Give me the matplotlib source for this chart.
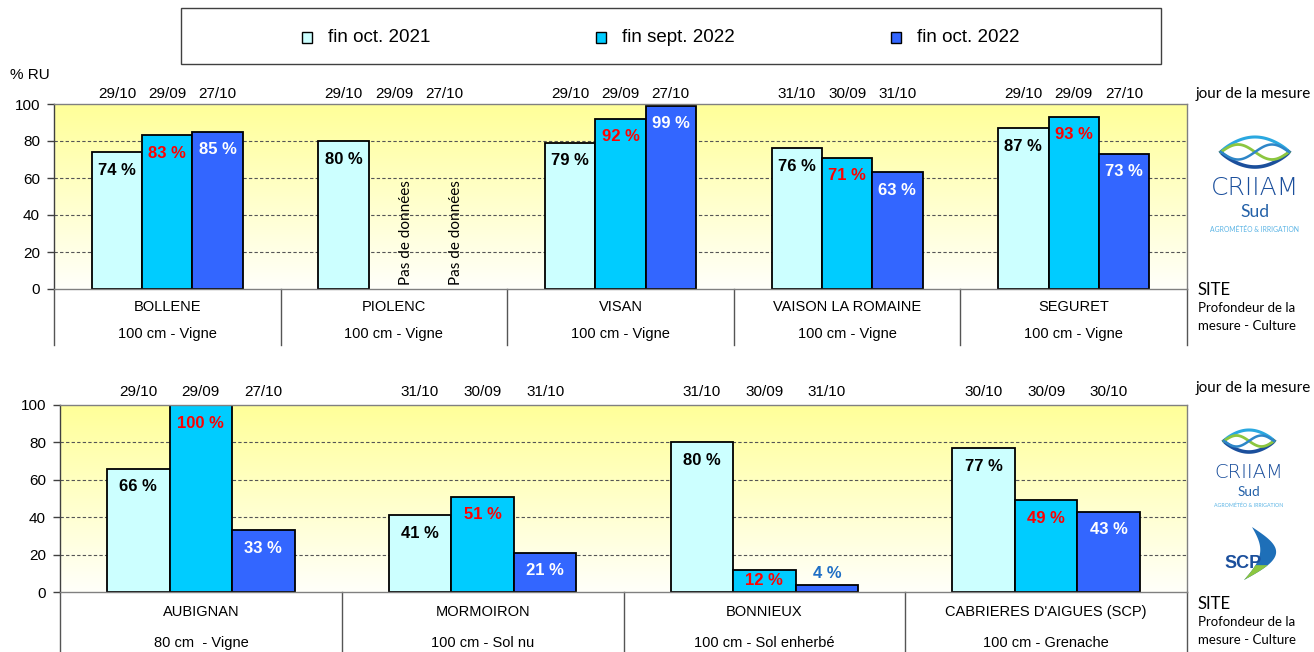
import numpy as np
import matplotlib
matplotlib.use("Agg")
import matplotlib.pyplot as plt
from matplotlib.colors import LinearSegmentedColormap
from matplotlib.patches import Rectangle
from matplotlib.transforms import blended_transform_factory

# ---------------- data ----------------
series_names = ["fin oct. 2021", "fin sept. 2022", "fin oct. 2022"]

top_sites = ["BOLLENE", "PIOLENC", "VISAN", "VAISON LA ROMAINE", "SEGURET"]
top_cultures = ["100 cm - Vigne", "100 cm - Vigne", "100 cm - Vigne",
                "100 cm - Vigne", "100 cm - Vigne"]
top_oct2021 = [74, 80, 79, 76, 87]
top_sept2022 = [83, None, 92, 71, 93]
top_oct2022 = [85, None, 99, 63, 73]
top_dates_oct2021 = ["29/10", "29/10", "29/10", "31/10", "29/10"]
top_dates_sept2022 = ["29/09", "29/09", "29/09", "30/09", "29/09"]
top_dates_oct2022 = ["27/10", "27/10", "27/10", "31/10", "27/10"]

bot_sites = ["AUBIGNAN", "MORMOIRON", "BONNIEUX", "CABRIERES D'AIGUES (SCP)"]
bot_cultures = ["80 cm  - Vigne", "100 cm - Sol nu", "100 cm - Sol enherbé",
                "100 cm - Grenache"]
bot_oct2021 = [66, 41, 80, 77]
bot_sept2022 = [100, 51, 12, 49]
bot_oct2022 = [33, 21, 4, 43]
bot_dates_oct2021 = ["29/10", "31/10", "31/10", "30/10"]
bot_dates_sept2022 = ["29/09", "30/09", "30/09", "30/09"]
bot_dates_oct2022 = ["27/10", "31/10", "31/10", "30/10"]

y_ticks = [0, 20, 40, 60, 80, 100]
no_data_text = "Pas de données"

# ---------------- style ----------------
bar_colors = ["#CCFFFF", "#00CCFF", "#3366FF"]
label_colors = ["#000000", "#FF0000", "#FFFFFF"]
small_label_color = "#1F6FC5"
ARIAL = "Liberation Sans"
CALIBRI = "Lato"

W, H = 1314, 652
fig = plt.figure(figsize=(W / 100, H / 100), dpi=100)
fig.patch.set_facecolor("white")


def PT(px):
    return px * 0.72


def px_axes(l, t, r, b):
    return fig.add_axes([l / W, 1 - b / H, (r - l) / W, (b - t) / H])


bg_cmap = LinearSegmentedColormap.from_list("bg", ["#FFFFFA", "#FFFF99"])


def draw_panel(ax, axh_px, sites, cultures, series, dates,
               date_dy, site_dy, cult_dy, depth_px):
    n = len(sites)
    bw = 0.222
    offsets = [-bw, 0.0, bw]
    ax.set_xlim(-0.5, n - 0.5)
    ax.set_ylim(0, 100)
    grad = np.linspace(1, 0, 256).reshape(-1, 1)
    ax.imshow(grad, cmap=bg_cmap, extent=(-0.5, n - 0.5, 0, 100), aspect="auto",
              origin="upper", zorder=0, vmin=0, vmax=1, interpolation="bilinear")
    ax.hlines([t for t in y_ticks if 0 < t < 100], -0.5, n - 0.5, colors="#555555",
              linestyles=(0, (3, 2)), lw=0.8, zorder=1)
    trans = blended_transform_factory(ax.transData, ax.transAxes)
    for k, vals in enumerate(series):
        for i, v in enumerate(vals):
            xc = i + offsets[k]
            ax.annotate(dates[k][i], xy=(xc, 1), xycoords=trans,
                        xytext=(0, PT(date_dy)), textcoords="offset points",
                        ha="center", va="center", fontsize=11, family=ARIAL,
                        annotation_clip=False)
            if v is None:
                ax.annotate(no_data_text, xy=(xc, 2), xytext=(PT(12), 0),
                            textcoords="offset points", rotation=90,
                            ha="center", va="bottom", fontsize=11,
                            family=CALIBRI, zorder=4)
                continue
            ax.bar(xc, v, width=bw, color=bar_colors[k], edgecolor="black",
                   lw=1.3, zorder=3)
            h_px = v / 100 * axh_px
            if h_px < 12:
                dy, col = 11, small_label_color
            else:
                dy, col = -min(18, h_px / 2), label_colors[k]
            ax.annotate(f"{v} %", xy=(xc, v), xytext=(0, PT(dy)),
                        textcoords="offset points", ha="center", va="center",
                        fontsize=12, fontweight="bold", color=col,
                        family=ARIAL, zorder=5, annotation_clip=False)
    # category table
    depth = depth_px / axh_px
    for xb in np.arange(-0.5, n, 1.0):
        ax.plot([xb, xb], [0, -depth], transform=trans, clip_on=False,
                color="#555555", lw=1)
    for i in range(n):
        ax.annotate(sites[i], xy=(i, 0), xycoords=trans, xytext=(0, -PT(site_dy)),
                    textcoords="offset points", ha="center", va="center",
                    fontsize=10.5, family=ARIAL, annotation_clip=False)
        ax.annotate(cultures[i], xy=(i, 0), xycoords=trans, xytext=(0, -PT(cult_dy)),
                    textcoords="offset points", ha="center", va="center",
                    fontsize=10.5, family=ARIAL, annotation_clip=False)
    for s in ["top", "right", "bottom"]:
        ax.spines[s].set_color("#808080")
        ax.spines[s].set_linewidth(1)
    ax.spines["left"].set_color("#404040")
    ax.spines["left"].set_linewidth(1)
    for s in ax.spines.values():
        s.set_zorder(6)
    ax.set_xticks([])
    ax.set_yticks(y_ticks)
    ax.tick_params(axis="y", length=5, width=1, color="#404040", labelsize=11,
                   pad=5)
    for lab in ax.get_yticklabels():
        lab.set_family(ARIAL)


# overlay in pixel coordinates (legend, logos, side texts)
ov = fig.add_axes([0, 0, 1, 1])
ov.set_xlim(0, W)
ov.set_ylim(H, 0)
ov.axis("off")
ov.patch.set_alpha(0)

ax_top = px_axes(54, 104, 1187, 289)
draw_panel(ax_top, 185, top_sites, top_cultures,
           [top_oct2021, top_sept2022, top_oct2022],
           [top_dates_oct2021, top_dates_sept2022, top_dates_oct2022],
           10, 18, 45, 56)

ax_bot = px_axes(60, 405, 1187, 592)
draw_panel(ax_bot, 187, bot_sites, bot_cultures,
           [bot_oct2021, bot_sept2022, bot_oct2022],
           [bot_dates_oct2021, bot_dates_sept2022, bot_dates_oct2022],
           13, 20, 51, 62)

# "% RU"
ov.text(10, 75, "% RU", ha="left", va="center", fontsize=11, family=ARIAL)

# legend box
ov.add_patch(Rectangle((181, 8), 980, 56, facecolor="white", edgecolor="#404040",
                       lw=1))
for name, col, sx in zip(series_names, bar_colors, [307, 601, 896]):
    ov.add_patch(Rectangle((sx - 5, 32), 10, 11, facecolor=col, edgecolor="black",
                           lw=1))
    ov.text(sx + 21, 37.5, name, ha="left", va="center", fontsize=13.5,
            family=ARIAL)

# side texts
for yj, ys in [(94, 290), (388, 604)]:
    ov.text(1196, yj, "jour de la mesure", ha="left", va="center", fontsize=11,
            family=CALIBRI)
    ov.text(1198, ys, "SITE", ha="left", va="center", fontsize=12, family=CALIBRI)
    ov.text(1198, ys + 18, "Profondeur de la", ha="left", va="center",
            fontsize=9.5, family=CALIBRI)
    ov.text(1198, ys + 36, "mesure - Culture", ha="left", va="center",
            fontsize=9.5, family=CALIBRI)


def criiam_logo(cx, wy, ww, wh, ty, fs):
    t = np.linspace(0, 1, 120)
    X = cx - ww / 2 + ww * t
    ov.plot(X, wy - wh * np.sin(np.pi * t) ** 0.8, color="#2AA8E0", lw=2.2)
    ov.plot(X, wy + wh * np.sin(np.pi * t) ** 0.8, color="#1B4F9C", lw=2.6)
    ov.plot(X, wy - 0.5 * wh * np.sin(2 * np.pi * t), color="#8CC63F", lw=2)
    ov.plot(X, wy + 0.5 * wh * np.sin(2 * np.pi * t), color="#2E86C8", lw=1.8)
    ov.text(cx, ty, "CRIIAM", ha="center", va="center", fontsize=fs,
            color="#1B4F9C", family="DejaVu Sans", fontweight="light")
    ov.text(cx, ty + fs * 1.35, "Sud", ha="center", va="center", fontsize=fs * 0.7,
            color="#2461A8", family=CALIBRI)
    ov.text(cx, ty + fs * 2.3, "AGROMÉTÉO & IRRIGATION", ha="center", va="center",
            fontsize=fs * 0.27, color="#5BB4E5", family=CALIBRI)


criiam_logo(1255, 152, 68, 15, 188, 18)
criiam_logo(1249, 441, 50, 11, 473, 14)

# SCP logo
t = np.linspace(0, 1, 60)
yy = 527 + 53 * t
xo = 1252 + 28 * np.sin(np.pi * t) - 8 * t
xi = 1252 + 12 * np.sin(np.pi * t) - 8 * t
ov.fill(np.r_[xo, xi[::-1]], np.r_[yy, yy[::-1]], color="#1E6FB8", lw=0)
tg = np.linspace(0.72, 1, 20)
ov.fill(np.r_[1252 + 28 * np.sin(np.pi * tg) - 8 * tg,
              (1252 + 12 * np.sin(np.pi * tg) - 8 * tg)[::-1]],
        np.r_[527 + 53 * tg, (527 + 53 * tg)[::-1]], color="#8CC63F", lw=0)
ov.text(1243, 563, "SCP", ha="center", va="center", fontsize=13,
        fontweight="bold", color="#1B4F9C", family=ARIAL)

fig.savefig("out.png", dpi=100)
